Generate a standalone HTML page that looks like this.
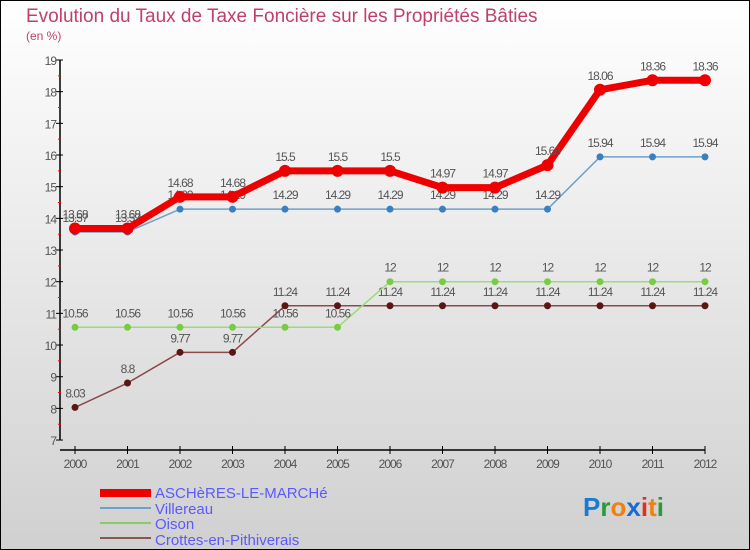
<!DOCTYPE html>
<html><head><meta charset="utf-8"><style>
body{margin:0;width:750px;height:550px;overflow:hidden}
svg{display:block;font-family:"Liberation Sans",sans-serif}
</style></head><body>
<svg width="750" height="550">
<defs><linearGradient id="bg" x1="0" y1="0" x2="0" y2="1"><stop offset="0" stop-color="#ffffff"/><stop offset="1" stop-color="#d0d0d0"/></linearGradient></defs>
<rect x="0.5" y="0.5" width="749" height="549" fill="url(#bg)" stroke="#000"/>
<text x="26" y="22" font-size="19" fill="#c0406a">Evolution du Taux de Taxe Foncière sur les Propriétés Bâties</text>
<text x="26" y="40" font-size="12" fill="#c0406a">(en %)</text>
<g id="axes"></g>
<g id="series"></g>
<g>
<rect x="100" y="489" width="51" height="8" fill="#e00"/>
<text x="155" y="498" font-size="15" fill="#5a5aff">ASCHèRES-LE-MARCHé</text>
<line x1="100" y1="508" x2="151" y2="508" stroke="#6fa0c8" stroke-width="2"/>
<text x="155" y="514" font-size="15" fill="#5a5aff">Villereau</text>
<line x1="100" y1="523" x2="151" y2="523" stroke="#88cc66" stroke-width="2"/>
<text x="155" y="529" font-size="15" fill="#5a5aff">Oison</text>
<line x1="100" y1="538" x2="151" y2="538" stroke="#8a5555" stroke-width="2"/>
<text x="155" y="545" font-size="15" fill="#5a5aff">Crottes-en-Pithiverais</text>
</g>
<g font-size="26" font-weight="bold">
<text x="583" y="516"><tspan fill="#1a7ad0">P</tspan><tspan fill="#2a9a3a">r</tspan><tspan fill="#f08010">o</tspan><tspan fill="#1a6ad0">x</tspan><tspan fill="#e03020">i</tspan><tspan fill="#f08010">t</tspan><tspan fill="#2a9a3a">i</tspan></text>
</g>
</svg>
<script>
const years=["2000","2001","2002","2003","2004","2005","2006","2007","2008","2009","2010","2011","2012"];
const asch=[13.68,13.68,14.68,14.68,15.5,15.5,15.5,14.97,14.97,15.68,18.06,18.36,18.36];
const villereau=[13.57,13.57,14.29,14.29,14.29,14.29,14.29,14.29,14.29,14.29,15.94,15.94,15.94];
const oison=[10.56,10.56,10.56,10.56,10.56,10.56,12,12,12,12,12,12,12];
const crottes=[8.03,8.8,9.77,9.77,11.24,11.24,11.24,11.24,11.24,11.24,11.24,11.24,11.24];
const yTicks=[7,8,9,10,11,12,13,14,15,16,17,18,19];
const NS="http://www.w3.org/2000/svg";
const X=i=>75+i*52.5, Y=v=>60+(19-v)*31.67;
function mk(p,t,a){const e=document.createElementNS(NS,t);for(const k in a)e.setAttribute(k,a[k]);p.appendChild(e);return e;}
const ax=document.getElementById('axes');
const yl=mk(ax,'line',{x1:60,y1:Y(19),x2:60,y2:Y(7),stroke:'#000','stroke-width':1.5});


const xl=mk(ax,'line',{x1:60,y1:450,x2:X(12),y2:450,stroke:'#000','stroke-width':1.5});


yTicks.forEach(v=>{
 mk(ax,'line',{x1:56,y1:Y(v),x2:63,y2:Y(v),stroke:'#000'});
 if(v<19) mk(ax,'line',{x1:58,y1:Y(v+0.5),x2:61,y2:Y(v+0.5),stroke:'#f00'});
 const t=mk(ax,'text',{x:56,y:Y(v)+5,'font-size':12,'text-anchor':'end',fill:'#555','letter-spacing':'-1'});
 t.textContent=v;
 
 
});
years.forEach((y,i)=>{
 mk(ax,'line',{x1:X(i),y1:446,x2:X(i),y2:454,stroke:'#000'});
 const t=mk(ax,'text',{x:X(i),y:468,'font-size':12,'text-anchor':'middle',fill:'#555','letter-spacing':'-1'});
 t.textContent=y;
 
 
});
const sg=document.getElementById('series');
function draw(data,color,dot,w,r,name){
 const g=mk(sg,'g',{});
 
 
 mk(g,'polyline',{points:data.map((v,i)=>X(i)+','+Y(v)).join(' '),fill:'none',stroke:color,'stroke-width':w,'stroke-linejoin':'round'});
 data.forEach((v,i)=>{
  const c=mk(g,'circle',{cx:X(i),cy:Y(v),r:r,fill:dot});
  
  
  const t=mk(g,'text',{x:X(i),y:Y(v)-10,'font-size':12,'text-anchor':'middle',fill:'#555','letter-spacing':'-1'});
  t.textContent=v;
  
  
 });
}
draw(crottes,'#8a4a4a','#5a1515',1.5,3.5,'series-crottes');
draw(oison,'#99dd77','#77cc44',1.5,3.5,'series-oison');
draw(villereau,'#6fa0c8','#3a80c0',1.5,3.5,'series-villereau');
draw(asch,'#ee0000','#ee0000',7,6,'series-asch');
</script>
</body></html>
